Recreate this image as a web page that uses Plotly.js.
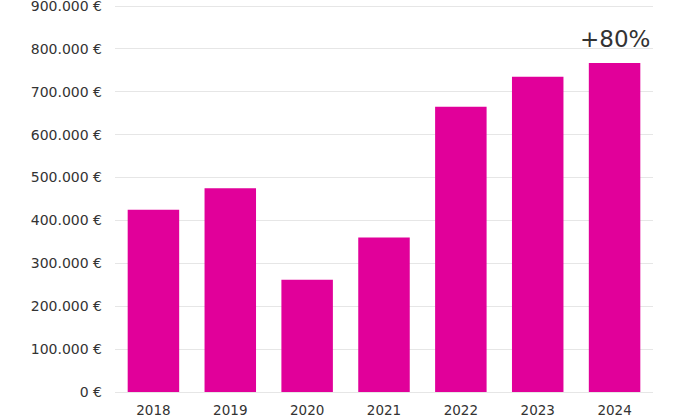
<!DOCTYPE html>
<html>
<head>
<meta charset="utf-8">
<script src="https://cdn.plot.ly/plotly-3.0.1.min.js"></script>
<style>html,body{margin:0;padding:0;background:#fff;}#chart{width:680px;height:416px;}</style>
</head>
<body>
<div id="chart"></div>
<script>
const years = ["2018","2019","2020","2021","2022","2023","2024"];
const revenue = [425000, 475000, 262000, 360000, 665000, 735000, 767000];
const tickValues = [0,100000,200000,300000,400000,500000,600000,700000,800000,900000];
const tickLabels = ["0 €","100.000 €","200.000 €","300.000 €","400.000 €","500.000 €","600.000 €","700.000 €","800.000 €","900.000 €"];
const growthLabel = "+80%";

const fontFam = "DejaVu Sans, sans-serif";
const trace = {
  type: "bar",
  x: years,
  y: revenue,
  marker: {color: "#e1009a", line: {width: 0}},
  hoverinfo: "skip"
};
const layout = {
  width: 680, height: 416,
  margin: {l: 115, r: 27, t: 5, b: 24},
  paper_bgcolor: "#fff", plot_bgcolor: "#fff",
  bargap: 0.33,
  showlegend: false,
  font: {family: fontFam, size: 13, color: "#333"},
  xaxis: {
    type: "category",
    categoryarray: years, categoryorder: "array",
    range: [-0.5, years.length - 0.5],
    showgrid: false, zeroline: false, showline: false,
    ticks: "", tickfont: {family: fontFam, size: 13.5, color: "#333"},
    ticklabelstandoff: 8
  },
  yaxis: {
    range: [0, 902400],
    tickvals: tickValues, ticktext: tickLabels,
    showgrid: true, gridcolor: "#e6e6e6", gridwidth: 1,
    zeroline: true, zerolinecolor: "#e6e6e6", zerolinewidth: 1,
    showline: false, ticks: "",
    ticklabeloverflow: "allow",
    tickfont: {family: fontFam, size: 14, color: "#333"},
    ticklabelstandoff: 12
  },
  annotations: [{
    x: years.length - 1, y: revenue[revenue.length-1],
    xref: "x", yref: "y",
    text: growthLabel, showarrow: false,
    yanchor: "bottom", yshift: 9,
    font: {family: fontFam, size: 23, color: "#333"}
  }]
};
Plotly.newPlot("chart", [trace], layout, {displayModeBar: false, staticPlot: true});
</script>
</body>
</html>
